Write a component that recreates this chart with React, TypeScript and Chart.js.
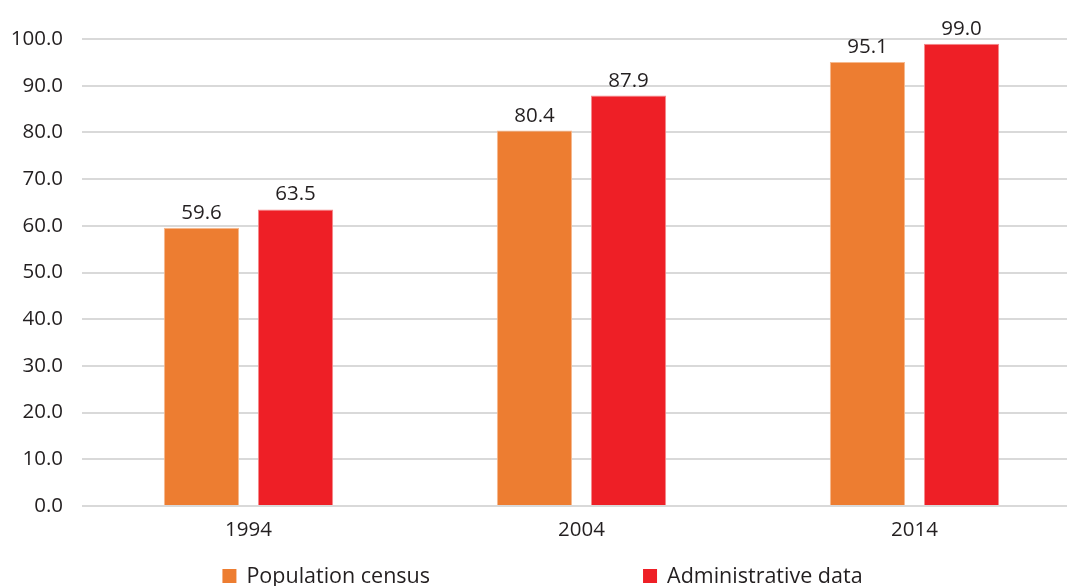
import React, { useEffect, useRef } from "react";
import { Chart, registerables } from "chart.js";

Chart.register(...registerables);

const categories = ["1994", "2004", "2014"];
const populationCensus = [59.6, 80.4, 95.1];
const administrativeData = [63.5, 87.9, 99.0];
const seriesLabels = ["Population census", "Administrative data"];
const seriesColors = ["#ED7D31", "#EE1F26"];
const seriesBorders = ["#F6B98E", "#F48A8D"];
const yMin = 0;
const yMax = 100;
const yStep = 10;

const FONT = "'Open Sans', 'Noto Sans', sans-serif";
const TEXT = "#231F20";

const valueLabels = {
  id: "valueLabels",
  afterDatasetsDraw(chart: any) {
    const ctx = chart.ctx;
    ctx.save();
    ctx.font = `20.5px ${FONT}`;
    ctx.fillStyle = TEXT;
    ctx.textAlign = "center";
    ctx.textBaseline = "alphabetic";
    chart.data.datasets.forEach((ds: any, i: number) => {
      const meta = chart.getDatasetMeta(i);
      meta.data.forEach((bar: any, j: number) => {
        ctx.fillText(Number(ds.data[j]).toFixed(1), bar.x, bar.y - 9);
      });
    });
    ctx.restore();
  },
};

const spreadLegend = {
  id: "spreadLegend",
  afterDraw(chart: any) {
    const ctx = chart.ctx;
    ctx.save();
    ctx.font = `21.5px ${FONT}`;
    ctx.textBaseline = "middle";
    ctx.textAlign = "left";
    const box = 14;
    const gapText = 10;
    const gapItems = 213;
    const items = chart.data.datasets.map((ds: any) => ({
      text: ds.label,
      color: ds.backgroundColor,
      w: box + gapText + ctx.measureText(ds.label).width,
    }));
    const total = items.reduce((a: number, it: any) => a + it.w, 0) + gapItems * (items.length - 1);
    let x = chart.width / 2 - total / 2;
    const y = chart.chartArea.bottom + 70;
    items.forEach((it: any) => {
      ctx.fillStyle = it.color;
      ctx.fillRect(x, y - box / 2, box, box);
      ctx.fillStyle = TEXT;
      ctx.fillText(it.text, x + box + gapText, y + 1);
      x += it.w + gapItems;
    });
    ctx.restore();
  },
};

export default function App() {
  const ref = useRef<HTMLCanvasElement | null>(null);

  useEffect(() => {
    document.body.style.margin = "0";
    document.body.style.overflow = "hidden";
    const canvas = ref.current;
    if (!canvas) return;
    const chart = new Chart(canvas, {
      type: "bar",
      data: {
        labels: categories,
        datasets: [
          {
            label: seriesLabels[0],
            data: populationCensus,
            backgroundColor: seriesColors[0],
            borderColor: seriesBorders[0],
            borderWidth: 1,
            categoryPercentage: 0.565,
            barPercentage: 0.8,
          },
          {
            label: seriesLabels[1],
            data: administrativeData,
            backgroundColor: seriesColors[1],
            borderColor: seriesBorders[1],
            borderWidth: 1,
            categoryPercentage: 0.565,
            barPercentage: 0.8,
          },
        ],
      },
      options: {
        responsive: false,
        animation: false,
        devicePixelRatio: 1,
        layout: { padding: { top: 39, right: 4, bottom: 59, left: 0 } },
        plugins: {
          legend: { display: false },
          tooltip: { enabled: false },
        },
        scales: {
          x: {
            grid: { display: false, drawTicks: false },
            border: { display: false },
            ticks: {
              color: TEXT,
              font: { family: FONT, size: 20.5 },
              padding: 12,
            },
            afterFit: (s: any) => {
              s.height = 35;
            },
          },
          y: {
            min: yMin,
            max: yMax,
            grid: { color: "#D9D9D9", lineWidth: 2, drawTicks: false },
            border: { display: false },
            ticks: {
              stepSize: yStep,
              color: TEXT,
              font: { family: FONT, size: 20.5 },
              padding: 19,
              callback: (v: any) => Number(v).toFixed(1),
            },
            afterFit: (s: any) => {
              s.width = 82;
            },
          },
        },
      },
      plugins: [valueLabels, spreadLegend],
    });
    return () => chart.destroy();
  }, []);

  return (
    <div style={{ width: 1067, height: 586, overflow: "hidden", background: "#fff" }}>
      <canvas ref={ref} width={1085} height={600} style={{ display: "block" }} />
    </div>
  );
}
